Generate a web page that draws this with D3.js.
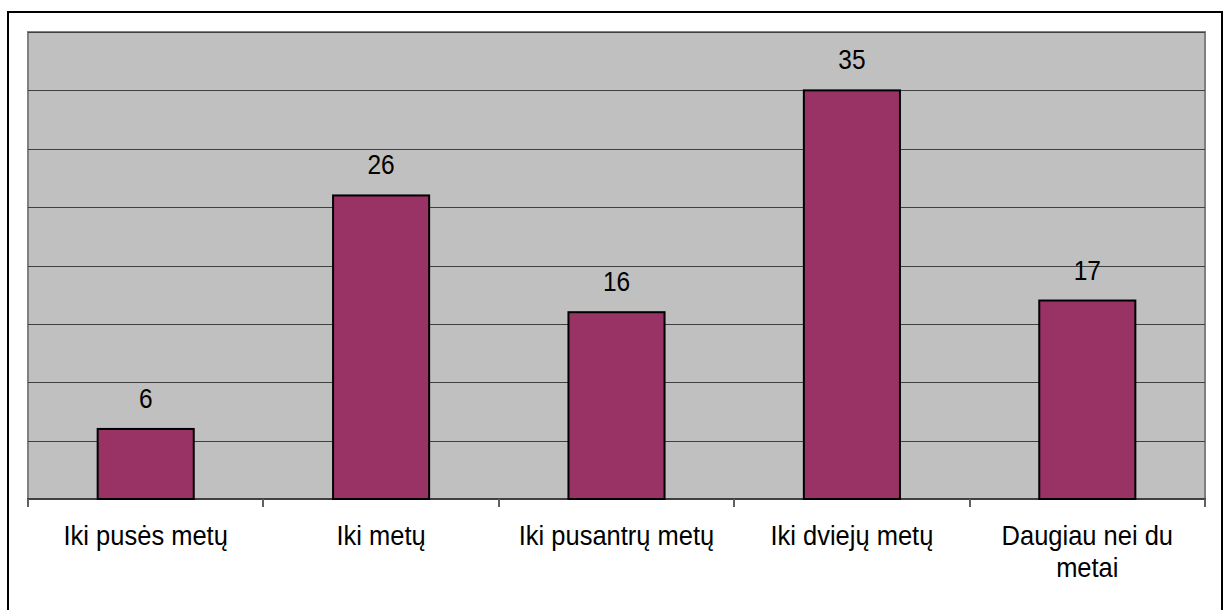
<!DOCTYPE html>
<html>
<head>
<meta charset="utf-8">
<script src="https://cdn.jsdelivr.net/npm/d3@7"></script>
<style>
  body { margin: 0; background: #fff; }
  svg text { font-family: "Liberation Sans", Arial, sans-serif; fill: #000; }
</style>
</head>
<body>
<svg id="plot"></svg>
<script>
const width = 1224;
const height = 610;

// data
const categories = ['Iki pusės metų', 'Iki metų', 'Iki pusantrų metų', 'Iki dviejų metų', 'Daugiau nei du metai'];
const labelLines = [['Iki pusės metų'], ['Iki metų'], ['Iki pusantrų metų'], ['Iki dviejų metų'], ['Daugiau nei du', 'metai']];
const values = [6, 26, 16, 35, 17];
const yTicks = [0, 5, 10, 15, 20, 25, 30, 35, 40];

const plot = {left: 28, top: 32, right: 1205, bottom: 499};
const stretchY = 1.12; // glyphs in the picture are a bit taller than wide

let svg, sx, sy;

function main(){
  svg = d3.select('svg#plot')
  .attr('width', width)
  .attr('height', height);

  // outer frame (bottom edge falls outside the picture)
  svg.append('rect')
  .attr('x', 8).attr('y', 12)
  .attr('width', 1214).attr('height', 610)
  .attr('fill', '#fff')
  .attr('stroke', '#000')
  .attr('stroke-width', 2);

  sx = d3.scaleBand()
  .domain(categories)
  .range([plot.left, plot.right])
  .paddingInner(0)
  .paddingOuter(0);

  sy = d3.scaleLinear()
  .domain([0, 40])
  .range([plot.bottom, plot.top]);

  // plot area
  svg.append('rect')
  .attr('x', plot.left).attr('y', plot.top)
  .attr('width', plot.right - plot.left)
  .attr('height', plot.bottom - plot.top)
  .attr('fill', '#c0c0c0')
  .attr('stroke', '#808080')
  .attr('stroke-width', 2);

  // gridlines
  svg.selectAll('.grid')
  .data(yTicks.filter(d=>d>0))
  .enter()
  .append('line')
  .attr('class', 'grid')
  .attr('x1', plot.left).attr('x2', plot.right)
  .attr('y1', d=>Math.round(sy(d))+0.5)
  .attr('y2', d=>Math.round(sy(d))+0.5)
  .attr('stroke', '#404040')
  .attr('stroke-width', 1);

  // x axis
  svg.append('line')
  .attr('x1', plot.left - 1).attr('x2', plot.right + 1)
  .attr('y1', plot.bottom).attr('y2', plot.bottom)
  .attr('stroke', '#404040')
  .attr('stroke-width', 2);

  let boundaries = categories.map(c=>sx(c)).concat([sx(categories[categories.length-1]) + sx.bandwidth()]);
  svg.selectAll('.tick')
  .data(boundaries)
  .enter()
  .append('line')
  .attr('class', 'tick')
  .attr('x1', d=>Math.round(d)).attr('x2', d=>Math.round(d))
  .attr('y1', plot.bottom).attr('y2', plot.bottom + 8)
  .attr('stroke', '#606060')
  .attr('stroke-width', 2);

  // bars
  let barW = sx.bandwidth() / 2.45;
  svg.selectAll('.bar')
  .data(values)
  .enter()
  .append('rect')
  .attr('class', 'bar')
  .attr('x', (d,i)=>sx(categories[i]) + sx.bandwidth()/2 - barW/2)
  .attr('y', d=>sy(d))
  .attr('width', barW)
  .attr('height', d=>sy(0) - sy(d))
  .attr('fill', '#993366')
  .attr('stroke', '#000')
  .attr('stroke-width', 2);

  // value labels
  svg.selectAll('.val')
  .data(values)
  .enter()
  .append('text')
  .attr('class', 'val')
  .attr('transform', (d,i)=>`translate(${sx(categories[i]) + sx.bandwidth()/2},${sy(d) - 21}) scale(1,${stretchY})`)
  .attr('text-anchor', 'middle')
  .attr('font-size', 24.5)
  .text(d=>d);

  // category labels
  let cat = svg.selectAll('.cat')
  .data(labelLines)
  .enter()
  .append('text')
  .attr('class', 'cat')
  .attr('transform', (d,i)=>`translate(${sx(categories[i]) + sx.bandwidth()/2},545) scale(1,${stretchY})`)
  .attr('text-anchor', 'middle')
  .attr('font-size', 25.5);

  cat.selectAll('tspan')
  .data(d=>d)
  .enter()
  .append('tspan')
  .attr('x', 0)
  .attr('dy', (d,i)=>i==0 ? 0 : 32/stretchY)
  .text(d=>d);
}

document.addEventListener('DOMContentLoaded', main);
</script>
</body>
</html>
